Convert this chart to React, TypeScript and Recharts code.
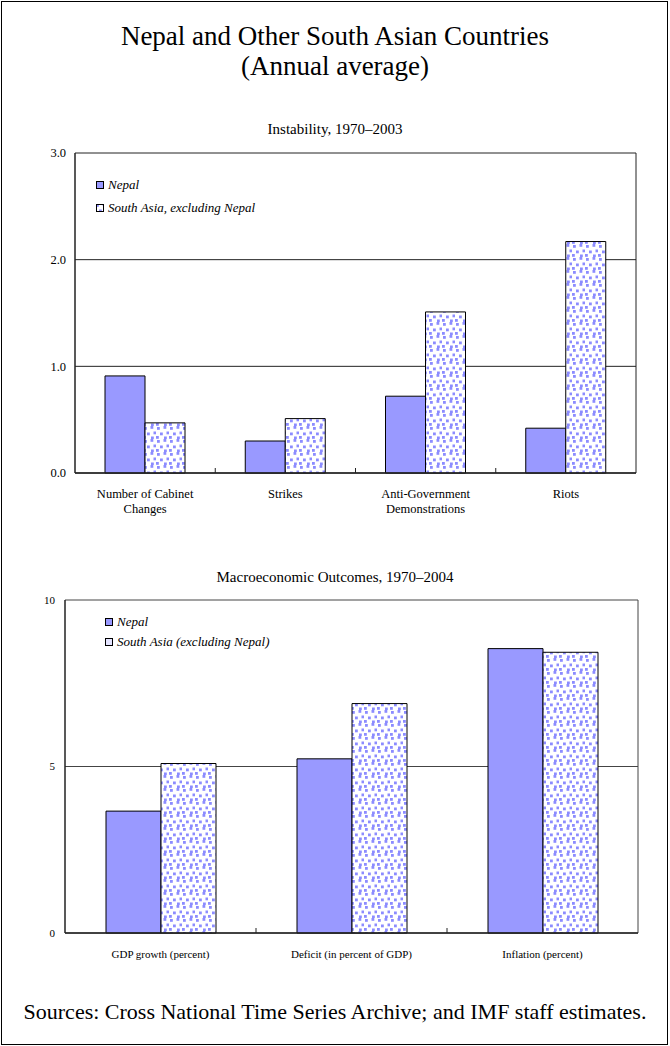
import React from "react";
import {
  BarChart,
  Bar,
  XAxis,
  YAxis,
  CartesianGrid,
  Legend
} from "recharts";

// top panel: instability
const instabilityCategories = [
  "Number of Cabinet\nChanges",
  "Strikes",
  "Anti-Government\nDemonstrations",
  "Riots"
];
const instabilityNepal = [0.91, 0.3, 0.72, 0.42];
const instabilitySouthAsia = [0.47, 0.51, 1.51, 2.17];
const instabilityTicks = [0, 1, 2, 3];

// bottom panel: macro outcomes
const macroCategories = [
  "GDP growth (percent)",
  "Deficit (in percent of GDP)",
  "Inflation (percent)"
];
const macroNepal = [3.66, 5.23, 8.54];
const macroSouthAsia = [5.09, 6.89, 8.43];
const macroTicks = [0, 5, 10];

const FONT = '"Liberation Serif", "Times New Roman", serif';
const NEPAL_FILL = "#9999ff";

const instabilityData = instabilityCategories.map((name, i) => ({
  name,
  nepal: instabilityNepal[i],
  southAsia: instabilitySouthAsia[i]
}));

const macroData = macroCategories.map((name, i) => ({
  name,
  nepal: macroNepal[i],
  southAsia: macroSouthAsia[i]
}));

// dotted fill used for the South Asia bars
const DotPattern = ({ id }: { id: string }) => (
  <defs>
    <pattern id={id} width={13} height={13} patternUnits="userSpaceOnUse">
      <rect width={13} height={13} fill="#ffffff" />
      <rect x={1} y={1} width={2.8} height={2.8} fill="#8c8cff" />
      <rect x={7.5} y={0} width={2.8} height={2.8} fill="#8c8cff" />
      <rect x={4} y={6.5} width={2.8} height={2.8} fill="#8c8cff" />
      <rect x={10.5} y={5.5} width={2.8} height={2.8} fill="#8c8cff" />
      <rect x={0} y={10} width={2.8} height={2.8} fill="#8c8cff" />
      <rect x={8} y={10.5} width={2.8} height={2.8} fill="#8c8cff" />
    </pattern>
  </defs>
);

// category label plus a small tick at the right edge of the band
const CategoryTick = (props: any) => {
  const { x, y, payload, index, count, lineHeight, fontSize } = props;
  const lines = String(payload.value).split("\n");
  const edge = x + (payload.offset || 0);
  return (
    <g>
      {index < count - 1 && (
        <line x1={edge} x2={edge} y1={y} y2={y - 5} stroke="#222" />
      )}
      <text
        x={x}
        y={y + 25}
        textAnchor="middle"
        fontSize={fontSize}
        fontFamily={FONT}
        fill="#000"
      >
        {lines.map((l: string, i: number) => (
          <tspan key={i} x={x} dy={i === 0 ? 0 : lineHeight}>
            {l}
          </tspan>
        ))}
      </text>
    </g>
  );
};

const makeLegend =
  (labels: string[], fills: string[], rowGap: number) => () =>
    (
      <div style={{ fontFamily: FONT, fontSize: 13, fontStyle: "italic" }}>
        {labels.map((l, i) => (
          <div
            key={l}
            style={{
              display: "flex",
              alignItems: "center",
              height: rowGap,
              whiteSpace: "nowrap"
            }}
          >
            <svg width={10} height={10} style={{ marginRight: 3 }}>
              <rect
                x={1.5}
                y={1.5}
                width={7}
                height={7}
                fill={fills[i]}
                stroke="#000"
                strokeWidth={1}
              />
            </svg>
            {l}
          </div>
        ))}
      </div>
    );

const edgeLines = ({ offset }: any) => [offset.left + offset.width];

const App = () => {
  return (
    <div
      style={{
        position: "absolute",
        left: 0,
        top: 0,
        width: 670,
        height: 1046,
        background: "#fff",
        fontFamily: FONT
      }}
    >
      {/* page frame */}
      <div
        style={{
          position: "absolute",
          left: 1,
          top: 1,
          width: 665,
          height: 1042,
          border: "1.5px solid #000"
        }}
      />

      <div
        style={{
          position: "absolute",
          top: 21,
          width: 670,
          textAlign: "center",
          fontSize: 27,
          lineHeight: "30px"
        }}
      >
        Nepal and Other South Asian Countries
        <br />
        (Annual average)
      </div>

      <div
        style={{
          position: "absolute",
          top: 121,
          width: 670,
          textAlign: "center",
          fontSize: 15
        }}
      >
        Instability, 1970–2003
      </div>

      <div style={{ position: "absolute", left: 0, top: 140 }}>
        <BarChart
          width={670}
          height={390}
          data={instabilityData}
          margin={{ top: 13, right: 34, bottom: 7, left: 15 }}
          barCategoryGap={30}
          barGap={0}
        >
          <DotPattern id="dotsTop" />
          <CartesianGrid
            stroke="#222"
            vertical
            verticalCoordinatesGenerator={edgeLines}
          />
          <XAxis
            dataKey="name"
            interval={0}
            height={50}
            tickSize={0}
            tickMargin={0}
            tickLine={false}
            axisLine={{ stroke: "#222", strokeWidth: 1.5 }}
            tick={(p: any) => (
              <CategoryTick
                {...p}
                count={instabilityCategories.length}
                lineHeight={15}
                fontSize={12.5}
              />
            )}
          />
          <YAxis
            width={60}
            domain={[0, 3]}
            ticks={instabilityTicks}
            tickFormatter={(v: number) => v.toFixed(1)}
            tickLine={false}
            tickSize={6}
            tickMargin={3}
            axisLine={{ stroke: "#222", strokeWidth: 1.5 }}
            tick={{ fontSize: 12.5, fill: "#000", fontFamily: FONT }}
          />
          <Legend
            layout="vertical"
            align="center"
            verticalAlign="middle"
            wrapperStyle={{ left: 95, top: 33, width: 260 }}
            content={makeLegend(
              ["Nepal", "South Asia, excluding Nepal"],
              [NEPAL_FILL, "url(#dotsTop)"],
              23
            )}
          />
          <Bar
            dataKey="nepal"
            name="Nepal"
            fill={NEPAL_FILL}
            stroke="#000"
            strokeWidth={1}
            isAnimationActive={false}
          />
          <Bar
            dataKey="southAsia"
            name="South Asia, excluding Nepal"
            fill="url(#dotsTop)"
            stroke="#000"
            strokeWidth={1}
            isAnimationActive={false}
          />
        </BarChart>
      </div>

      <div
        style={{
          position: "absolute",
          top: 569,
          width: 670,
          textAlign: "center",
          fontSize: 15
        }}
      >
        Macroeconomic Outcomes, 1970–2004
      </div>

      <div style={{ position: "absolute", left: 0, top: 580 }}>
        <BarChart
          width={670}
          height={420}
          data={macroData}
          margin={{ top: 20, right: 32, bottom: 27, left: 15 }}
          barCategoryGap={41}
          barGap={0}
        >
          <DotPattern id="dotsBottom" />
          <CartesianGrid
            stroke="#444"
            vertical
            verticalCoordinatesGenerator={edgeLines}
          />
          <XAxis
            dataKey="name"
            interval={0}
            height={40}
            tickSize={0}
            tickMargin={0}
            tickLine={false}
            axisLine={{ stroke: "#222", strokeWidth: 1.5 }}
            tick={(p: any) => (
              <CategoryTick
                {...p}
                count={macroCategories.length}
                lineHeight={15}
                fontSize={11}
              />
            )}
          />
          <YAxis
            width={50}
            domain={[0, 10]}
            ticks={macroTicks}
            tickLine={false}
            tickSize={6}
            tickMargin={4}
            axisLine={{ stroke: "#222", strokeWidth: 1.5 }}
            tick={{ fontSize: 11, fill: "#000", fontFamily: FONT }}
          />
          <Legend
            layout="vertical"
            align="center"
            verticalAlign="middle"
            wrapperStyle={{ left: 104, top: 32, width: 260 }}
            content={makeLegend(
              ["Nepal", "South Asia (excluding Nepal)"],
              [NEPAL_FILL, "#e4e4ff"],
              20
            )}
          />
          <Bar
            dataKey="nepal"
            name="Nepal"
            fill={NEPAL_FILL}
            stroke="#000"
            strokeWidth={1}
            isAnimationActive={false}
          />
          <Bar
            dataKey="southAsia"
            name="South Asia (excluding Nepal)"
            fill="url(#dotsBottom)"
            stroke="#000"
            strokeWidth={1}
            isAnimationActive={false}
          />
        </BarChart>
      </div>

      <div
        style={{
          position: "absolute",
          top: 999,
          width: 670,
          textAlign: "center",
          fontSize: 22
        }}
      >
        Sources: Cross National Time Series Archive; and IMF staff estimates.
      </div>
    </div>
  );
};

export default App;
